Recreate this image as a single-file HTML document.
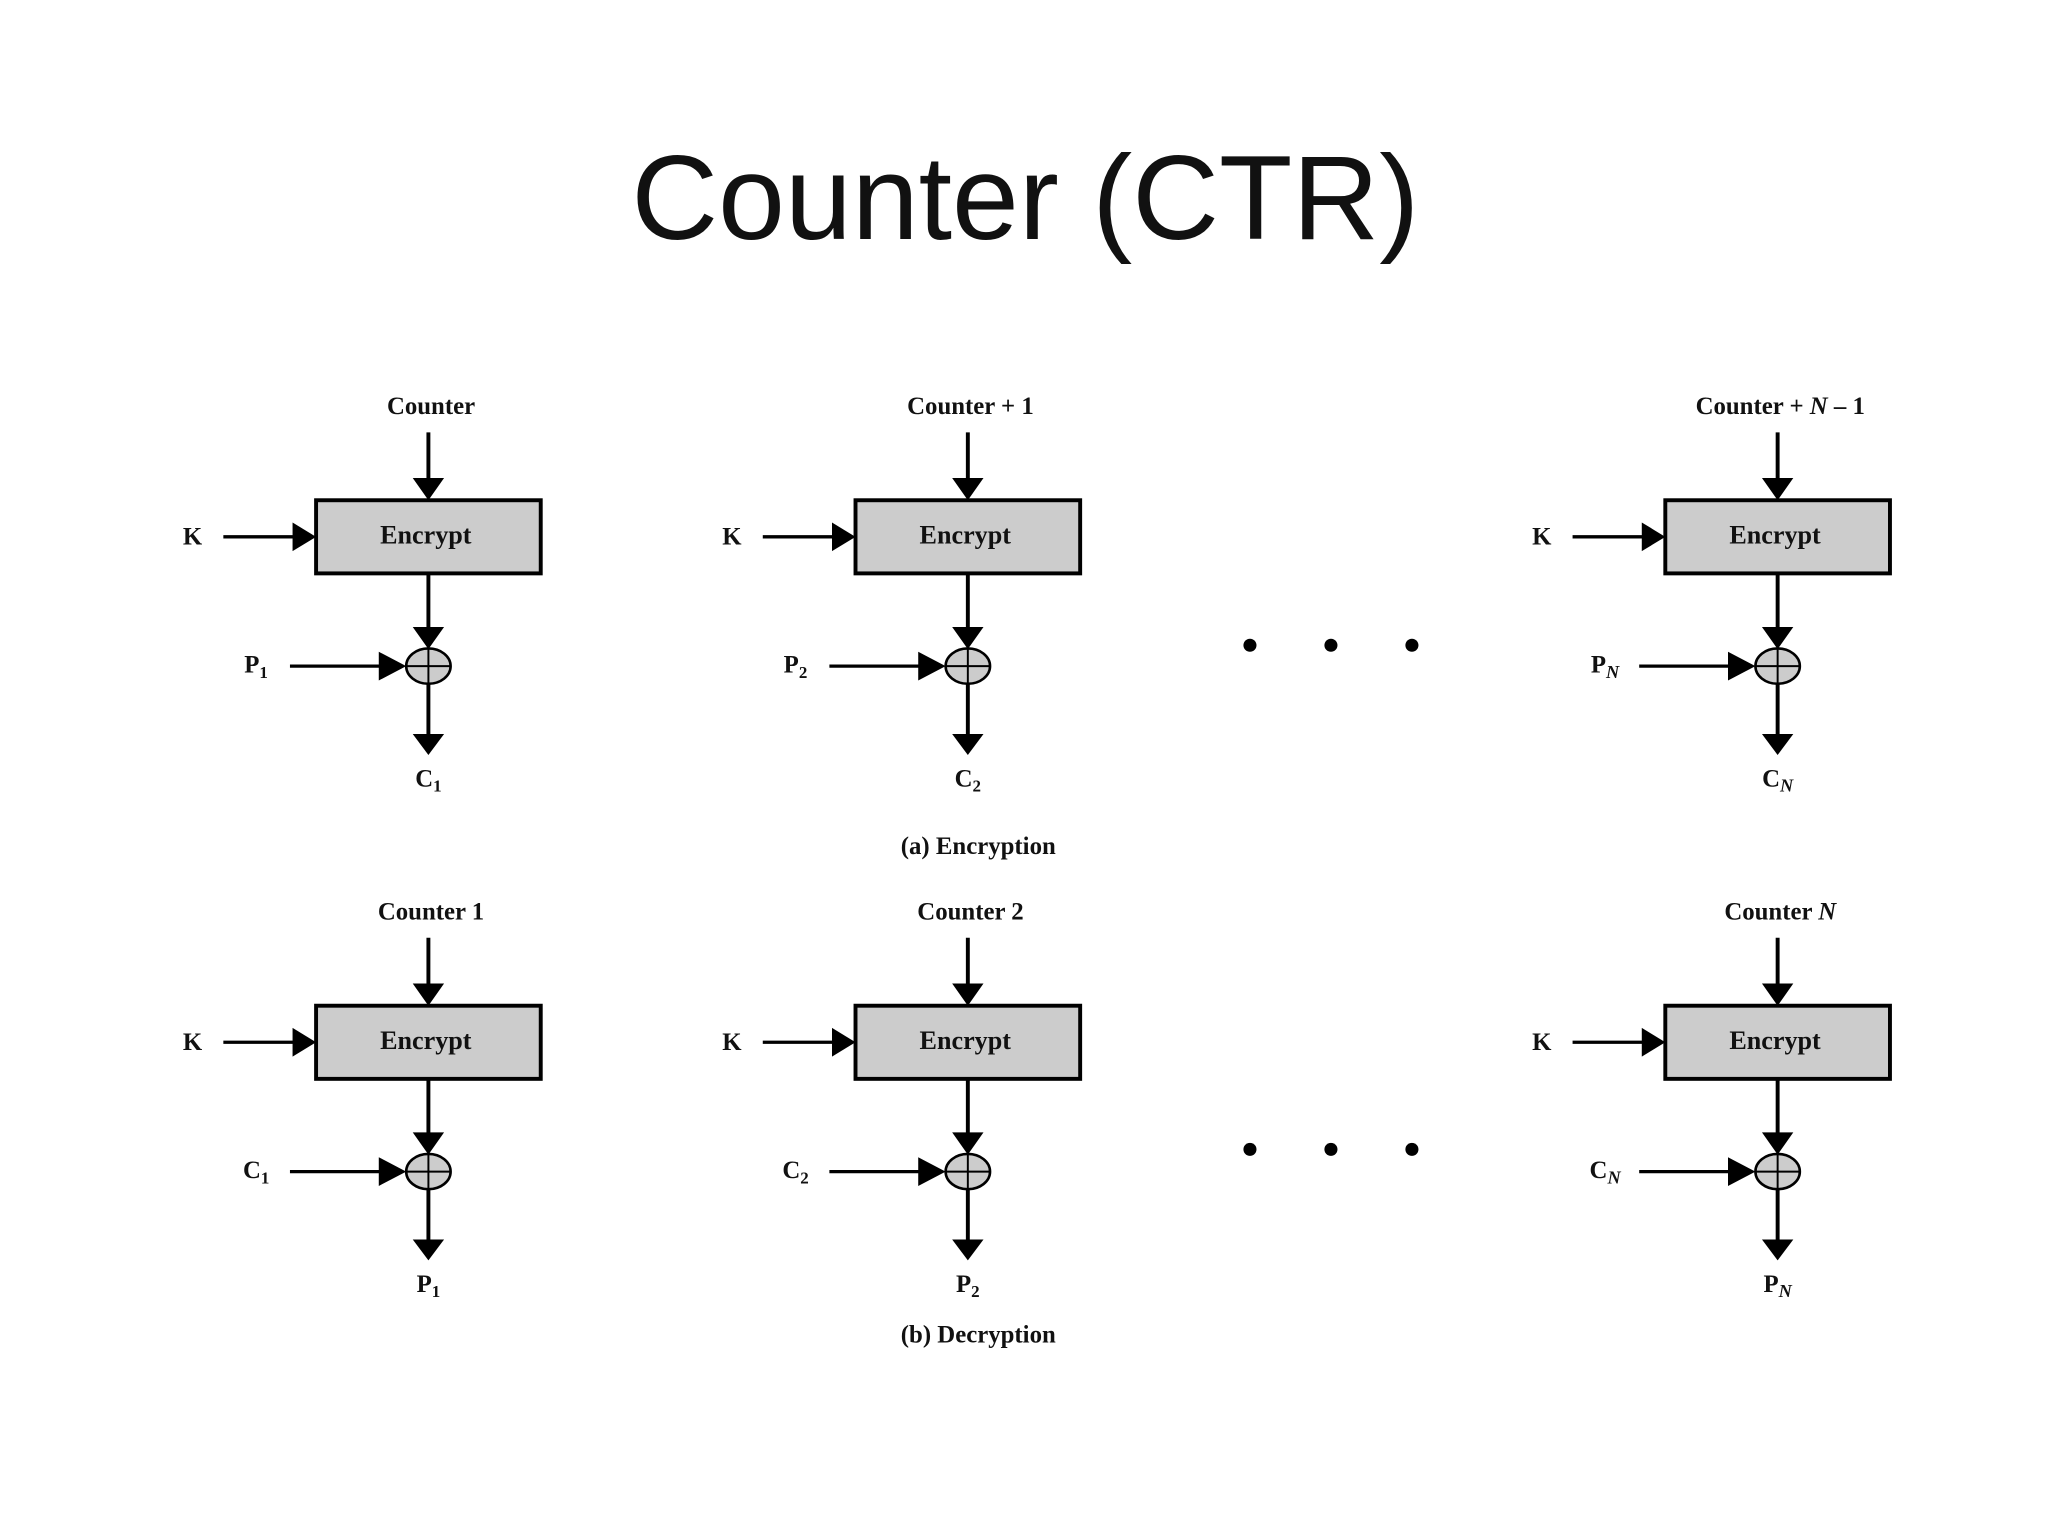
<!DOCTYPE html>
<html><head><meta charset="utf-8"><style>
html,body{margin:0;padding:0;background:#fff;}
svg{display:block;}
text{font-family:"Liberation Serif",serif;font-weight:bold;fill:#111;}
.t{font-family:"Liberation Sans",sans-serif;font-weight:normal;}
</style></head><body>
<svg width="2048" height="1536" viewBox="0 0 1568 1176" xmlns="http://www.w3.org/2000/svg">
<defs>
<g id="blk">
  <line x1="0" y1="331" x2="0" y2="370" stroke="#000" stroke-width="3"/>
  <polygon points="-12,366 12,366 0,383" fill="#000"/>
  <rect x="-86" y="383" width="172" height="56" fill="#cccccc" stroke="#000" stroke-width="3"/>
  <text x="-2" y="416" font-size="20" text-anchor="middle">Encrypt</text>
  <line x1="0" y1="439" x2="0" y2="484" stroke="#000" stroke-width="3"/>
  <polygon points="-12,480 12,480 0,497" fill="#000"/>
  <ellipse cx="0" cy="510" rx="17" ry="13.5" fill="#cccccc" stroke="#000" stroke-width="2"/>
  <line x1="-17" y1="510" x2="17" y2="510" stroke="#000" stroke-width="1.5"/>
  <line x1="0" y1="496" x2="0" y2="524" stroke="#000" stroke-width="1.5"/>
  <line x1="0" y1="524" x2="0" y2="566" stroke="#000" stroke-width="3"/>
  <polygon points="-12,562 12,562 0,578" fill="#000"/>
  <text x="-188" y="417" font-size="19">K</text>
  <line x1="-157" y1="411" x2="-100" y2="411" stroke="#000" stroke-width="2.5"/>
  <polygon points="-104,400 -104,422 -86,411" fill="#000"/>
  <line x1="-106" y1="510" x2="-34" y2="510" stroke="#000" stroke-width="2.5"/>
  <polygon points="-38,499 -38,521 -17,510" fill="#000"/>
</g>
</defs>
<text class="t" x="785" y="183" font-size="92" text-anchor="middle">Counter (CTR)</text>

<!-- Row 1 -->
<g transform="translate(328,0)"><use href="#blk"/>
<text x="2" y="317" font-size="19" text-anchor="middle">Counter</text>
<text x="-141" y="515" font-size="19">P<tspan font-size="13" dy="4">1</tspan></text>
<text x="0" y="602" font-size="19" text-anchor="middle">C<tspan font-size="13" dy="4">1</tspan></text></g>

<g transform="translate(741,0)"><use href="#blk"/>
<text x="2" y="317" font-size="19" text-anchor="middle">Counter + 1</text>
<text x="-141" y="515" font-size="19">P<tspan font-size="13" dy="4">2</tspan></text>
<text x="0" y="602" font-size="19" text-anchor="middle">C<tspan font-size="13" dy="4">2</tspan></text></g>

<g transform="translate(1361,0)"><use href="#blk"/>
<text x="2" y="317" font-size="19" text-anchor="middle">Counter + <tspan font-style="italic">N</tspan> – 1</text>
<text x="-143" y="515" font-size="19">P<tspan font-size="14" dy="4" font-style="italic">N</tspan></text>
<text x="0" y="602" font-size="19" text-anchor="middle">C<tspan font-size="14" dy="4" font-style="italic">N</tspan></text></g>

<circle cx="957" cy="494" r="5" fill="#000"/><circle cx="1019" cy="494" r="5" fill="#000"/><circle cx="1081" cy="494" r="5" fill="#000"/>
<text x="749" y="654" font-size="19" text-anchor="middle">(a) Encryption</text>

<!-- Row 2 -->
<g transform="translate(328,387)"><use href="#blk"/>
<text x="2" y="317" font-size="19" text-anchor="middle">Counter 1</text>
<text x="-142" y="515" font-size="19">C<tspan font-size="13" dy="4">1</tspan></text>
<text x="0" y="602" font-size="19" text-anchor="middle">P<tspan font-size="13" dy="4">1</tspan></text></g>

<g transform="translate(741,387)"><use href="#blk"/>
<text x="2" y="317" font-size="19" text-anchor="middle">Counter 2</text>
<text x="-142" y="515" font-size="19">C<tspan font-size="13" dy="4">2</tspan></text>
<text x="0" y="602" font-size="19" text-anchor="middle">P<tspan font-size="13" dy="4">2</tspan></text></g>

<g transform="translate(1361,387)"><use href="#blk"/>
<text x="2" y="317" font-size="19" text-anchor="middle">Counter <tspan font-style="italic">N</tspan></text>
<text x="-144" y="515" font-size="19">C<tspan font-size="14" dy="4" font-style="italic">N</tspan></text>
<text x="0" y="602" font-size="19" text-anchor="middle">P<tspan font-size="14" dy="4" font-style="italic">N</tspan></text></g>

<circle cx="957" cy="880" r="5" fill="#000"/><circle cx="1019" cy="880" r="5" fill="#000"/><circle cx="1081" cy="880" r="5" fill="#000"/>
<text x="749" y="1028" font-size="19" text-anchor="middle">(b) Decryption</text>
</svg>
</body></html>
